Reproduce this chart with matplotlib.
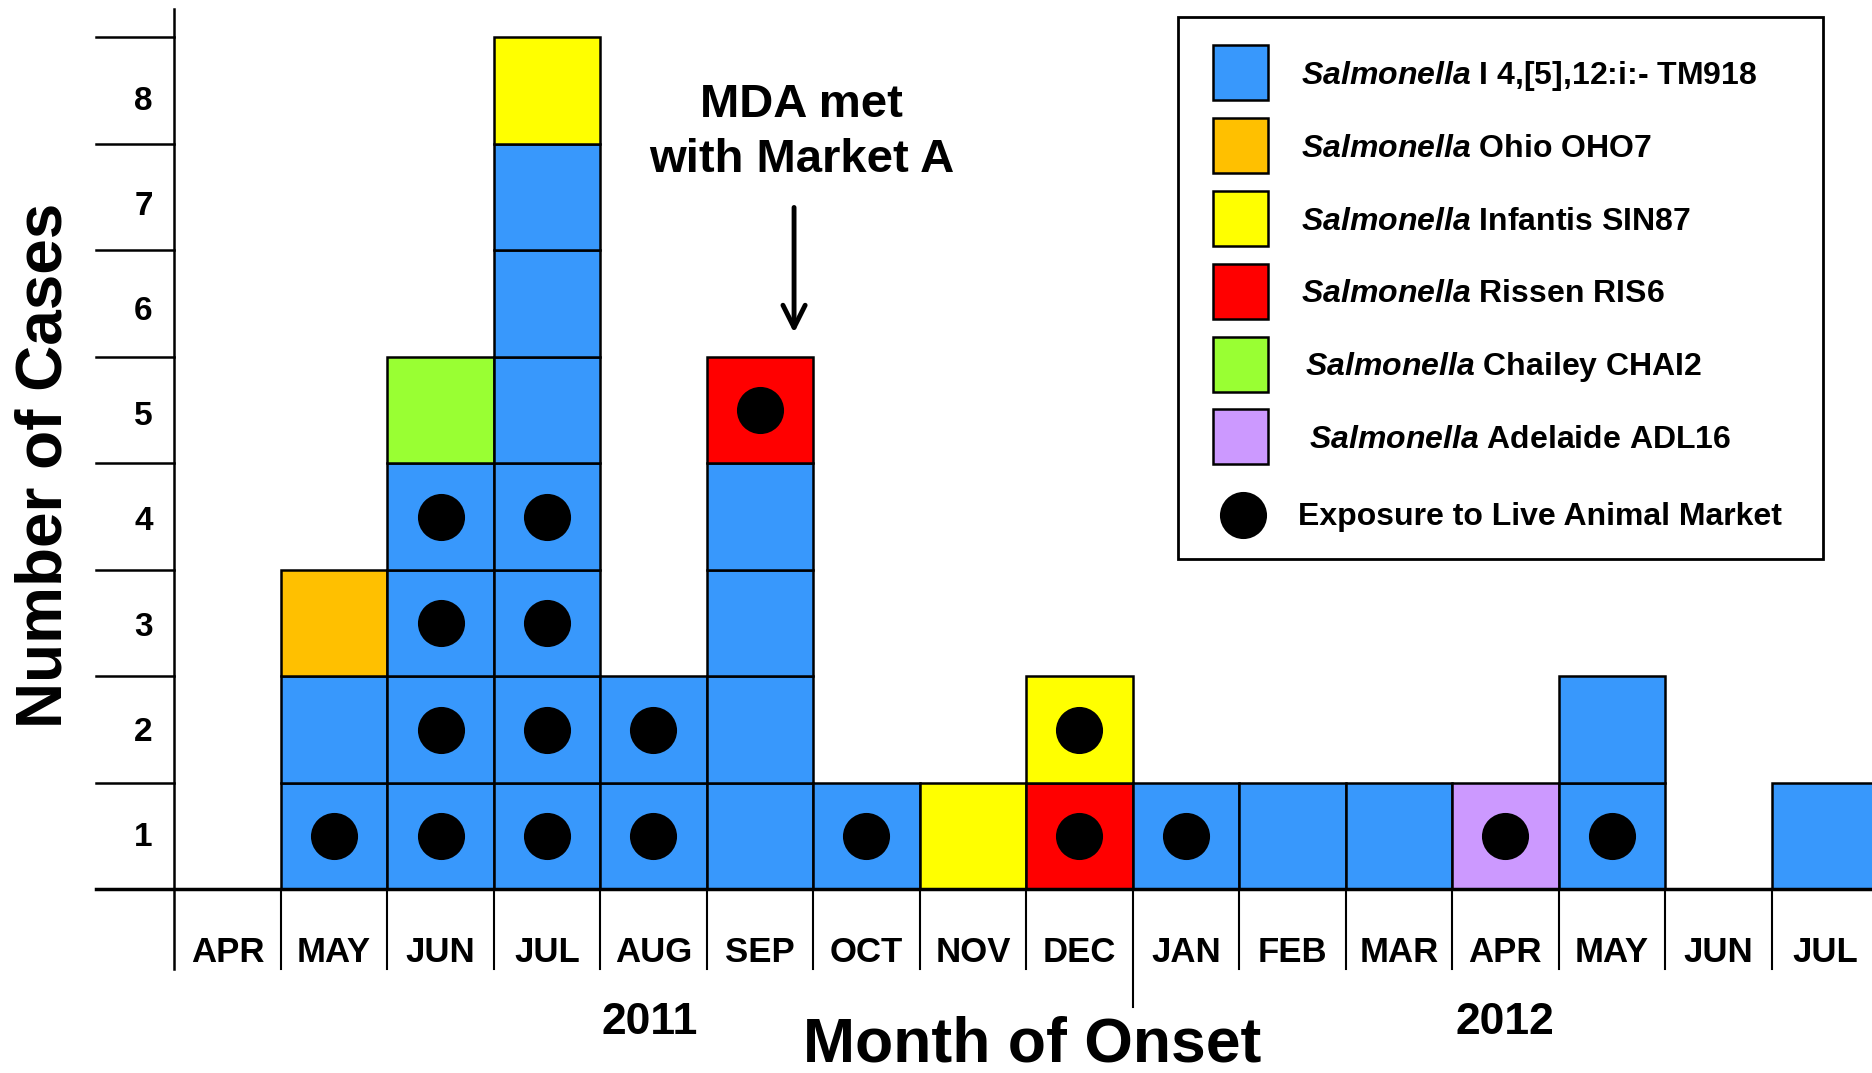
import matplotlib
matplotlib.use('Agg')
import matplotlib.pyplot as plt
from matplotlib.patches import Rectangle

plt.rcParams['font.family'] = ['Liberation Sans', 'DejaVu Sans']
plt.rcParams['font.weight'] = 'bold'
plt.rcParams['mathtext.fontset'] = 'custom'
plt.rcParams['mathtext.it'] = 'Liberation Sans:italic:bold'
plt.rcParams['mathtext.rm'] = 'Liberation Sans:bold'

# month of onset, Apr 2011 .. Jul 2012
months = ['APR', 'MAY', 'JUN', 'JUL', 'AUG', 'SEP', 'OCT', 'NOV', 'DEC',
          'JAN', 'FEB', 'MAR', 'APR', 'MAY', 'JUN', 'JUL']
years = ['2011', '2012']

# strain of every case, stacked bottom -> top
cases = [
    [],
    ['TM918', 'TM918', 'OHO7'],
    ['TM918', 'TM918', 'TM918', 'TM918', 'CHAI2'],
    ['TM918', 'TM918', 'TM918', 'TM918', 'TM918', 'TM918', 'TM918', 'SIN87'],
    ['TM918', 'TM918'],
    ['TM918', 'TM918', 'TM918', 'TM918', 'RIS6'],
    ['TM918'],
    ['SIN87'],
    ['RIS6', 'SIN87'],
    ['TM918'],
    ['TM918'],
    ['TM918'],
    ['ADL16'],
    ['TM918', 'TM918'],
    [],
    ['TM918'],
]
# exposure to live animal market (1 = yes), same order
market = [
    [], [1, 0, 0], [1, 1, 1, 1, 0], [1, 1, 1, 1, 0, 0, 0, 0], [1, 1],
    [0, 0, 0, 0, 1], [1], [0], [1, 1], [1], [0], [0], [1], [1, 0], [], [0],
]

strains = ['TM918', 'OHO7', 'SIN87', 'RIS6', 'CHAI2', 'ADL16']
strain_names = ['I 4,[5],12:i:- TM918', 'Ohio OHO7', 'Infantis SIN87',
                'Rissen RIS6', 'Chailey CHAI2', 'Adelaide ADL16']
strain_colors = ['#3898FC', '#FFC000', '#FFFF00', '#FF0000', '#99FF33', '#CC99FF']
color_of = dict(zip(strains, strain_colors))

fig = plt.figure(figsize=(18.72, 10.73), dpi=100)
ax = fig.add_axes([0, 0, 1, 1])
ax.axis('off')
ax.set_xlim(-1.637, 15.943)
ax.set_ylim(-1.724, 8.352)

# stacked case squares
dot_x, dot_y = [], []
for i, col in enumerate(cases):
    for k, s in enumerate(col):
        ax.bar(i, 1, bottom=k, width=1, align='edge', color=color_of[s],
               edgecolor='black', linewidth=1.8, zorder=2)
        if market[i][k]:
            dot_x.append(i + 0.5)
            dot_y.append(k + 0.5)
ax.scatter(dot_x, dot_y, s=1150, c='black', zorder=3, linewidths=0)

# y axis with ladder ticks
ax.plot([0, 0], [-0.75, 8.27], color='black', lw=1.8, zorder=1)
for k in range(0, 9):
    ax.plot([-0.74, 0], [k, k], color='black', lw=1.8, zorder=1)
for k in range(8):
    ax.text(-0.29, 0.49 + 0.987 * k, str(k + 1), ha='center', va='center',
            fontsize=24)
ax.plot([-0.74, 16], [0, 0], color='black', lw=2.5, zorder=4)

# month boxes under the axis
for i in range(1, 16):
    bottom = -1.10 if i == 9 else -0.75
    ax.plot([i, i], [0, bottom], color='black', lw=1.5, zorder=1)
for i, m in enumerate(months):
    ax.text(i + 0.5, -0.59, m, ha='center', va='center', fontsize=25)
ax.text(4.46, -1.25, years[0], ha='center', va='center', fontsize=32)
ax.text(12.5, -1.25, years[1], ha='center', va='center', fontsize=32)

ax.text(8.06, -1.465, 'Month of Onset', ha='center', va='center', fontsize=45)
ax.text(-1.22, 3.98, 'Number of Cases', ha='center', va='center',
        fontsize=46, rotation=90)

# MDA annotation
ax.text(5.89, 7.365, 'MDA met', ha='center', va='center', fontsize=34)
ax.text(5.89, 6.845, 'with Market A', ha='center', va='center', fontsize=34)
ax.annotate('', xy=(5.82, 5.20), xytext=(5.82, 6.43),
            arrowprops=dict(arrowstyle='->', lw=3.5, color='black',
                            mutation_scale=40))

# legend
ax.add_patch(Rectangle((9.43, 3.105), 6.05, 5.09, facecolor='white',
                       edgecolor='black', lw=2, zorder=5))
row_y = [7.668, 6.984, 6.300, 5.617, 4.933, 4.249]
text_x = [10.58, 10.58, 10.58, 10.58, 10.62, 10.66]
for j, (name, c) in enumerate(zip(strain_names, strain_colors)):
    ax.add_patch(Rectangle((10.01 - 0.258, row_y[j] - 0.258), 0.516, 0.516,
                           facecolor=c, edgecolor='black', lw=1.8, zorder=6))
    ax.text(text_x[j], row_y[j] - 0.03, r'$\mathit{Salmonella}$ ' + name,
            ha='left', va='center', fontsize=23, zorder=6)
ax.scatter([10.04], [3.52], s=1150, c='black', zorder=6, linewidths=0)
ax.text(10.55, 3.50, 'Exposure to Live Animal Market', ha='left',
        va='center', fontsize=23, zorder=6)

fig.savefig('out.png', dpi=100)
